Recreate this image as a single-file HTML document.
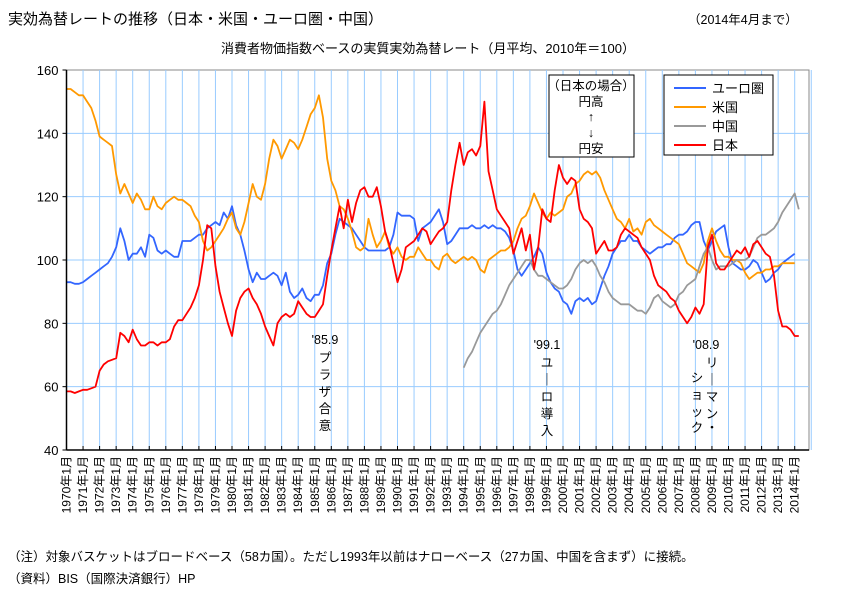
<!DOCTYPE html>
<html><head><meta charset="utf-8"><style>
body{margin:0;background:#fff;}
svg text{font-family:"Liberation Sans","Noto Sans CJK JP",sans-serif;fill:#000;}
</style></head><body>
<svg id="chart" width="851" height="595" viewBox="0 0 851 595" xmlns="http://www.w3.org/2000/svg">
<text x="8" y="24" font-size="15">実効為替レートの推移（日本・米国・ユーロ圏・中国）</text>
<text x="688" y="24" font-size="12.5">（2014年4月まで）</text>
<text x="428" y="53" font-size="13" text-anchor="middle">消費者物価指数ベースの実質実効為替レート（月平均、2010年＝100）</text>
<g id="grid"></g>
<g id="series"></g>
<g id="axes"></g>
<g font-size="12.5" text-anchor="middle">
<text x="325" y="344">'85.9</text>
<text x="325" y="362">プ</text><text x="325" y="379">ラ</text><text x="325" y="396">ザ</text><text x="325" y="413">合</text><text x="325" y="430">意</text>
</g>
<g font-size="12.5" text-anchor="middle">
<text x="547" y="349">'99.1</text>
<text x="547" y="367">ユ</text><text x="547" y="384">｜</text><text x="547" y="401">ロ</text><text x="547" y="418">導</text><text x="547" y="435">入</text>
</g>
<g font-size="12.5" text-anchor="middle">
<text x="706" y="349">'08.9</text>
<text x="712" y="367">リ</text><text x="712" y="384">｜</text><text x="712" y="401">マ</text><text x="712" y="418">ン</text><text x="712" y="432">・</text>
<text x="697" y="382">シ</text><text x="697" y="399">ョ</text><text x="697" y="416">ッ</text><text x="697" y="432">ク</text>
</g>
<g>
<rect x="549" y="75" width="85" height="82" fill="#fff" stroke="#000" stroke-width="1"/>
<text x="591" y="90" font-size="12.5" text-anchor="middle">（日本の場合）</text>
<text x="591" y="106" font-size="12.5" text-anchor="middle">円高</text>
<text x="591" y="121" font-size="12.5" text-anchor="middle">↑</text>
<text x="591" y="137" font-size="12.5" text-anchor="middle">↓</text>
<text x="591" y="153" font-size="12.5" text-anchor="middle">円安</text>
</g>
<g id="legend">
<rect x="664" y="75" width="109" height="80" fill="#fff" stroke="#000" stroke-width="1"/>
</g>
<text x="8" y="561" font-size="12.5">（注）対象バスケットはブロードベース（58カ国）。ただし1993年以前はナローベース（27カ国、中国を含まず）に接続。</text>
<text x="8" y="583" font-size="12.5">（資料）BIS（国際決済銀行）HP</text>
</svg>
<script>
const startYear = 1970;
const yTicks = [40, 60, 80, 100, 120, 140, 160];
const years = [];
for (let y = 1970; y <= 2014; y++) years.push(y);
const seriesNames = ["ユーロ圏", "米国", "中国", "日本"];
const euroValues = [93,93,92.5,92.5, 93,94,95,96, 97,98,99,101, 104,110,106,100, 102,102,104,101, 108,107,103,102, 103,102,101,101, 106,106,106,107, 108,108,110,111, 112,111,115,113, 117,111,108,103, 97,93,96,94, 94,95,96,95, 92,96,90,88, 89,91,88,87, 89,89,92,99, 102,108,113,112, 111,110,108,106, 104,103,103,103, 103,103,104,108, 115,114,114,114, 113,106,110,111, 112,114,116,112, 105,106,108,110, 110,110,111,110, 110,111,110,111, 110,110,109,107, 103,97,95,97, 99,101,104,102, 96,93,91,90, 87,86,83,87, 88,87,88,86, 87,91,95,98, 102,104,106,106, 108,106,106,104, 103,102,103,104, 104,105,105,107, 108,108,109,111, 112,112,106,103, 106,109,110,111, 104,99,98,97, 97,98,100,99, 96,93,94,96, 97,99,100,101, 102];
const usValues = [154,154,153,152, 152,150,148,144, 139,138,137,136, 127,121,124,121, 118,121,119,116, 116,120,117,116, 118,119,120,119, 119,118,117,114, 112,106,103,104, 106,108,110,113, 115,110,108,112, 118,124,120,119, 124,132,138,136, 132,135,138,137, 135,138,142,146, 148,152,145,132, 125,122,117,116, 113,109,104,103, 104,113,108,104, 106,109,104,102, 104,101,100,101, 101,104,102,100, 100,98,97,101, 102,100,99,100, 101,100,101,100, 97,96,100,101, 102,103,103,104, 106,110,113,114, 117,121,118,115, 113,115,114,115, 116,120,121,124, 125,127,128,127, 128,126,122,119, 116,113,112,110, 113,109,110,108, 112,113,111,110, 109,108,107,106, 105,102,99,98, 97,96,99,106, 110,106,103,101, 101,100,100,99, 96,94,95,96, 96,97,97,98, 98,99,99,99, 99];
const chinaStart = 1994;
const chinaValues = [66,69,71,74, 77,79,81,83, 84,86,89,92, 94,96,98,100, 100,97,95,95, 94,93,92,91, 91,92,94,97, 99,100,99,100, 98,95,93,90, 88,87,86,86, 86,85,84,84, 83,85,88,89, 87,86,85,86, 89,90,92,93, 94,98,102,104, 100,97,98,98, 98,99,100,100, 100,101,104,107, 108,108,109,110, 112,115,117,119, 121,116];
const japanValues = [58.5,58.5,58,58.5, 59,59,59.5,60, 65,67,68,68.5, 69,77,76,74, 78,75,73,73, 74,74,73,74, 74,75,79,81, 81,83,85,88, 92,100,111,110, 98,90,85,80, 76,84,88,90, 91,88,86,83, 79,76,73,80, 82,83,82,83, 87,85,83,82, 82,84,86,95, 103,110,117,110, 119,112,118,122, 123,120,120,123, 117,109,105,99, 93,97,104,105, 106,108,110,109, 105,107,109,110, 112,122,130,137, 130,134,135,133, 136,150,128,122, 116,114,112,110, 102,106,110,103, 108,97,104,116, 113,112,122,130, 126,124,126,125, 116,113,112,110, 102,104,106,103, 103,104,108,110, 109,108,107,104, 102,100,95,92, 91,90,88,87, 84,82,80,82, 85,83,86,104, 108,99,97,97, 99,101,103,102, 104,101,105,106, 104,102,101,95, 84,79,79,78, 76,76];
const seriesColors = ["#3366ff", "#ff9900", "#999999", "#ff0000"];

const X0 = 66.5, PXY = 16.55, XR = 809, YT = 70, YB = 450;
const xs = t => X0 + (t - startYear) * PXY;
const ys = v => YB - (v - 40) / 120 * (YB - YT);
const NS = "http://www.w3.org/2000/svg";
function mk(tag, parent, attrs) {
  const e = document.createElementNS(NS, tag);
  for (const k in attrs) e.setAttribute(k, attrs[k]);
  parent.appendChild(e);
  return e;
}
const grid = document.getElementById('grid');
const axes = document.getElementById('axes');
const sg = document.getElementById('series');
mk('rect', grid, {x: X0, y: YT, width: XR - X0, height: YB - YT, fill: '#fff', stroke: '#888'});
years.forEach(y => {
  const l = mk('line', grid, {x1: xs(y), x2: xs(y), y1: YT, y2: YB, stroke: '#99ccff', 'stroke-width': 1});
  
  
  const t = mk('text', axes, {x: 0, y: 0, 'font-size': 12, 'text-anchor': 'end', transform: `translate(${xs(y) + 4},456) rotate(-90)`});
  t.textContent = y + '年1月';
  
  
  mk('line', axes, {x1: xs(y), x2: xs(y), y1: YB, y2: YB - 4, stroke: '#000'});
});
mk('line', grid, {x1: xs(2015), x2: xs(2015), y1: YT, y2: YB, stroke: '#99ccff'});
yTicks.forEach(v => {
  if (v > 40 && v < 160) {
    const g = mk('line', grid, {x1: X0, x2: XR, y1: ys(v), y2: ys(v), stroke: '#99ccff', 'stroke-width': 1});
    
    
  }
  mk('line', axes, {x1: X0 - 4, x2: X0, y1: ys(v), y2: ys(v), stroke: '#000'});
  const t = mk('text', axes, {x: X0 - 8, y: ys(v) + 5, 'font-size': 13, 'text-anchor': 'end'});
  t.textContent = v;
  
  
});
mk('line', axes, {x1: X0, x2: X0, y1: YT, y2: YB, stroke: '#000', 'stroke-width': 1.5});
mk('line', axes, {x1: X0, x2: XR, y1: YB, y2: YB, stroke: '#000', 'stroke-width': 1.5});

function drawLine(vals, start, color, name) {
  const pts = vals.map((v, i) => xs(start + i * 0.25).toFixed(1) + ',' + ys(v).toFixed(1)).join(' ');
  const p = mk('polyline', sg, {points: pts, fill: 'none', stroke: color, 'stroke-width': 1.8, 'stroke-linejoin': 'round'});
  
  
}
drawLine(euroValues, startYear, seriesColors[0], 'euro-line');
drawLine(usValues, startYear, seriesColors[1], 'us-line');
drawLine(chinaValues, chinaStart, seriesColors[2], 'china-line');
drawLine(japanValues, startYear, seriesColors[3], 'japan-line');

const lg = document.getElementById('legend');
seriesNames.forEach((n, i) => {
  const y = 88 + i * 19;
  const l = mk('line', lg, {x1: 674, x2: 706, y1: y, y2: y, stroke: seriesColors[i], 'stroke-width': 2});
  
  
  const t = mk('text', lg, {x: 712, y: y + 5, 'font-size': 13});
  t.textContent = n;
  
  
});
</script>
</body></html>
